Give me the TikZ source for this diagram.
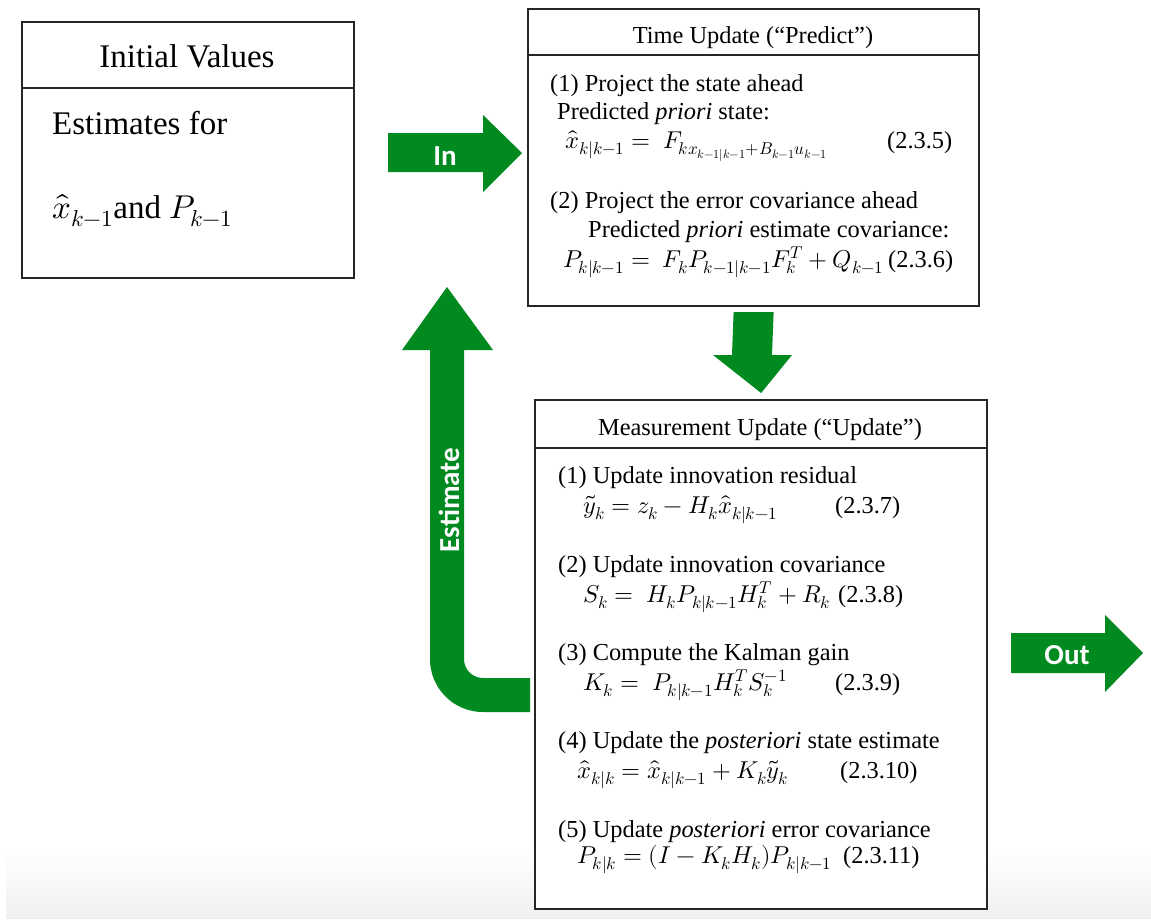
\documentclass[tikz,border=0pt]{standalone}
\usepackage{fontspec}
\usepackage{unicode-math}
\setmainfont{Liberation Serif}
\newfontfamily\arrowfont{Carlito}
\definecolor{kgreen}{RGB}{0,138,32}
\begin{document}
\begin{tikzpicture}[x=1pt,y=-1pt,
  box/.style={draw=black!85, line width=2.2pt, fill=white, inner sep=0pt, anchor=north west},
  boxline/.style={draw=black!85, line width=2.2pt},
  txt/.style={anchor=base west, inner sep=0pt, font=\fontsize{24.4}{28}\selectfont},
  head/.style={anchor=base, inner sep=0pt, font=\fontsize{24.4}{28}\selectfont},
  bigtxt/.style={anchor=base west, inner sep=0pt, font=\fontsize{33}{38}\selectfont},
  bighead/.style={anchor=base, inner sep=0pt, font=\fontsize{33}{38}\selectfont},
  garrow/.style={fill=kgreen, draw=none},
  alabel/.style={text=white, inner sep=0pt, font=\arrowfont\bfseries\fontsize{29}{32}\selectfont},
]
\fill[white] (0,0) rectangle (1151,922);
\shade[top color=white, bottom color=black!6] (6,850) rectangle (1151,918);
\useasboundingbox (0,0) rectangle (1151,922);

% Initial values box
\node[box, minimum width=332pt, minimum height=256pt] (init) at (21,21) {};
\draw[boxline] ([yshift=-67pt]init.north west) -- ([yshift=-67pt]init.north east);
\node[bighead] (initH) at (187,67) {Initial Values};
\node[bigtxt] (initA) at (52,134) {Estimates for};
\node[bigtxt] (initB) at (52,218) {$\hat{x}_{k-1}$and $P_{k-1}$};

% Time update box
\node[box, minimum width=451pt, minimum height=297pt] (tu) at (527,8) {};
\draw[boxline] ([yshift=-47pt]tu.north west) -- ([yshift=-47pt]tu.north east);
\node[head] (tuH) at (753,43) {Time Update (“Predict”)};
\node[txt] (tu1) at (550,91) {(1) Project the state ahead};
\node[txt] (tu1a) at (557,119) {Predicted \textit{priori} state:};
\node[txt] (tu1b) at (565,148) {$\hat{x}_{k|k-1} = \ F_{k x_{k-1|k-1} + B_{k-1} u_{k-1}}$};
\node[txt] (tu1n) at (887,148) {(2.3.5)};
\node[txt] (tu2) at (550,208) {(2) Project the error covariance ahead};
\node[txt] (tu2a) at (588,237) {Predicted \textit{priori} estimate covariance:};
\node[txt] (tu2b) at (563,267) {$P_{k|k-1} = \ F_k P_{k-1|k-1} F_k^T + Q_{k-1}$};
\node[txt] (tu2n) at (888,267) {(2.3.6)};

% Measurement update box
\node[box, minimum width=452pt, minimum height=509pt] (mu) at (534,399) {};
\draw[boxline] ([yshift=-49pt]mu.north west) -- ([yshift=-49pt]mu.north east);
\node[head] (muH) at (760,435) {Measurement Update (“Update”)};
\node[txt] (mu1) at (558,483) {(1) Update innovation residual};
\node[txt] (mu1b) at (583,513) {$\tilde{y}_k = z_k - H_k \hat{x}_{k|k-1}$};
\node[txt] (mu1n) at (835,513) {(2.3.7)};
\node[txt] (mu2) at (558,572) {(2) Update innovation covariance};
\node[txt] (mu2b) at (583,602) {$S_k = \ H_k P_{k|k-1} H_k^T + R_k$};
\node[txt] (mu2n) at (838,602) {(2.3.8)};
\node[txt] (mu3) at (558,660) {(3) Compute the Kalman gain};
\node[txt] (mu3b) at (583,690) {$K_k = \ P_{k|k-1} H_k^T S_k^{-1}$};
\node[txt] (mu3n) at (835,690) {(2.3.9)};
\node[txt] (mu4) at (558,748) {(4) Update the \textit{posteriori} state estimate};
\node[txt] (mu4b) at (577,778) {$\hat{x}_{k|k} = \hat{x}_{k|k-1} + K_k \tilde{y}_k$};
\node[txt] (mu4n) at (840,778) {(2.3.10)};
\node[txt] (mu5) at (558,837) {(5) Update \textit{posteriori} error covariance};
\node[txt] (mu5b) at (577,863) {$P_{k|k} = (I - K_k H_k) P_{k|k-1}$};
\node[txt] (mu5n) at (843,863) {(2.3.11)};

% In arrow
\coordinate (inTip) at ([xshift=-5pt,yshift=-145pt]tu.north west);
\fill[garrow] (388,133) -- (483,133) -- (483,115) -- (inTip) -- (483,192) -- (483,172) -- (388,172) -- cycle;
\node[alabel] (inL) at (445,156) {In};

% Out arrow
\fill[garrow] (1011,633) -- (1105,633) -- (1105,615) -- (1143,653) -- (1105,692) -- (1105,673) -- (1011,673) -- cycle;
\node[alabel] (outL) at (1067,655) {Out};

% Down arrow (time update -> measurement update)
\coordinate (dTop) at ([yshift=-5pt]tu.south);
\coordinate (dTip) at ([yshift=6pt]mu.north);
\fill[garrow] ([xshift=-20pt]dTop) -- ([xshift=20pt]dTop) -- (772,355) -- (792,355) -- (dTip) -- (713,355) -- (732,355) -- cycle;

% Estimate arrow (measurement update -> back up)
\coordinate (eStart) at ([xshift=-4pt]mu.west |- 0,695);
\draw[kgreen, line width=34pt, rounded corners=36pt] (eStart) -- (447,695) -- (447,349);
\fill[garrow] (402,350) -- (447,287) -- (493,350) -- cycle;
\node[alabel, rotate=90] (estL) at (449,500) {Estimate};
\end{tikzpicture}
\end{document}
